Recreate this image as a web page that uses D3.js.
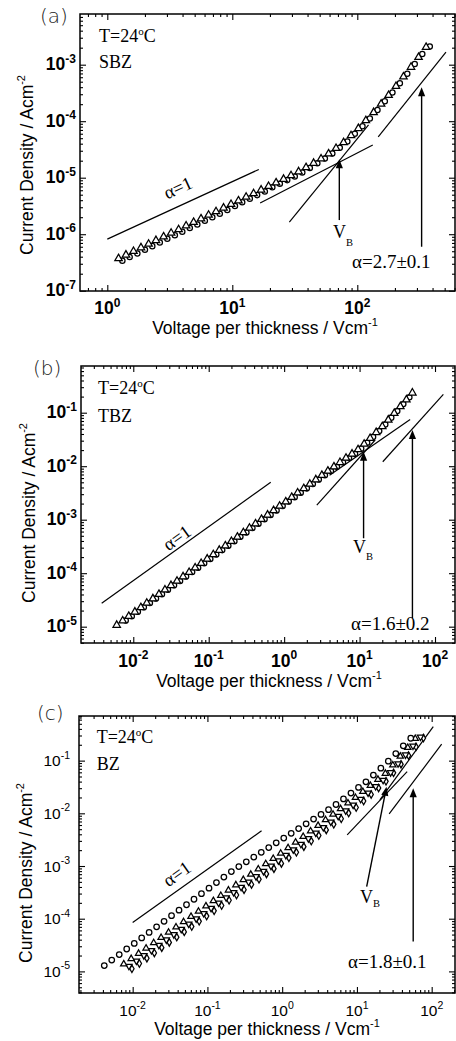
<!DOCTYPE html>
<html><head><meta charset="utf-8">
<script src="https://cdn.jsdelivr.net/npm/d3@7"></script>
<style>html,body{margin:0;padding:0;background:#fff;}svg{display:block;}</style>
</head><body>
<svg id="chart" width="456" height="1041"></svg>
<script>
// ---------------- DATA ----------------
// Panel (a) SBZ
const sbzTriX = [1.23,1.41,1.62,1.86,2.14,2.45,2.82,3.24,3.72,4.27,4.90,5.62,6.46,7.41,8.51,9.77,11.2,12.9,14.8,17.0,19.5,22.4,25.7,29.5,33.9,38.9,44.7,51.3,58.9,67.6,77.6,89.1,102,117,135,155,178,204,234,269,309,355];
const sbzTriJ = [3.72e-7,4.31e-7,4.99e-7,5.79e-7,6.71e-7,7.78e-7,9.03e-7,1.05e-6,1.21e-6,1.41e-6,1.63e-6,1.88e-6,2.18e-6,2.52e-6,2.92e-6,3.38e-6,3.92e-6,4.54e-6,5.25e-6,6.08e-6,7.05e-6,8.15e-6,9.44e-6,1.09e-5,1.28e-5,1.52e-5,1.81e-5,2.16e-5,2.66e-5,3.32e-5,4.20e-5,5.56e-5,7.46e-5,1.03e-4,1.43e-4,2.02e-4,2.88e-4,4.15e-4,6.11e-4,9.06e-4,1.35e-3,2.04e-3];
const sbzCirX = [1.32,1.51,1.74,2.00,2.29,2.63,3.02,3.47,3.98,4.57,5.25,6.03,6.92,7.94,9.12,10.5,12.0,13.8,15.8,18.2,20.9,24.0,27.5,31.6,36.3,41.7,47.9,55.0,63.1,72.4,83.2,95.5,110,126,145,166,191,219,251,288,331,380];
const sbzCirJ = [3.40e-7,3.94e-7,4.57e-7,5.31e-7,6.15e-7,7.13e-7,8.28e-7,9.61e-7,1.11e-6,1.29e-6,1.49e-6,1.73e-6,2.00e-6,2.31e-6,2.68e-6,3.17e-6,3.67e-6,4.26e-6,4.92e-6,5.70e-6,6.76e-6,7.82e-6,9.06e-6,1.05e-5,1.24e-5,1.48e-5,1.80e-5,2.19e-5,2.69e-5,3.40e-5,4.39e-5,6.00e-5,8.17e-5,1.12e-4,1.58e-4,2.25e-4,3.22e-4,4.70e-4,6.92e-4,1.03e-3,1.55e-3,2.09e-3];
const sbzLines = [[[1,8.2e-7],[16.3,1.4e-5]],[[16.7,3.56e-6],[133,3.8e-5]],[[28.6,1.64e-6],[123,8.6e-5]],[[147,5.3e-5],[512,1.66e-3]]];
const sbzArrows = [[[71.8,1.78e-6],[71.8,2.12e-5]],[[327,6.0e-7],[327,3.98e-4]]];

// Panel (b) TBZ
const tbzTriX = [6.03e-3,7.24e-3,8.71e-3,1.05e-2,1.26e-2,1.51e-2,1.82e-2,2.19e-2,2.63e-2,3.16e-2,3.80e-2,4.57e-2,5.50e-2,6.61e-2,7.94e-2,9.55e-2,0.115,0.138,0.166,0.200,0.240,0.288,0.347,0.417,0.501,0.603,0.724,0.871,1.05,1.26,1.51,1.82,2.19,2.63,3.16,3.80,4.57,5.50,6.61,7.94,9.55,11.5,13.8,16.6,20.0,24.0,28.8,34.7,41.7,50.1];
const tbzTriJ = [1.07e-5,1.29e-5,1.57e-5,1.89e-5,2.29e-5,2.77e-5,3.34e-5,4.05e-5,4.89e-5,5.92e-5,7.14e-5,8.63e-5,1.04e-4,1.26e-4,1.53e-4,1.85e-4,2.23e-4,2.70e-4,3.26e-4,3.94e-4,4.76e-4,5.75e-4,6.97e-4,8.41e-4,1.02e-3,1.23e-3,1.49e-3,1.80e-3,2.17e-3,2.63e-3,3.18e-3,3.84e-3,4.65e-3,5.61e-3,6.78e-3,8.15e-3,9.79e-3,1.18e-2,1.42e-2,1.70e-2,2.05e-2,2.59e-2,3.33e-2,4.29e-2,5.52e-2,7.33e-2,9.79e-2,0.131,0.175,0.235];
const tbzCirX = [7.94e-3,9.55e-3,1.15e-2,1.38e-2,1.66e-2,2.00e-2,2.40e-2,2.88e-2,3.47e-2,4.17e-2,5.01e-2,6.03e-2,7.24e-2,8.71e-2,0.105,0.126,0.151,0.182,0.219,0.263,0.316,0.380,0.457,0.550,0.661,0.794,0.955,1.15,1.38,1.66,2.00,2.40,2.88,3.47,4.17,5.01,6.03,7.24,8.71,10.5,12.6,15.1,18.2,21.9,26.3,31.6,38.0,45.7];
const tbzCirJ = [1.30e-5,1.57e-5,1.90e-5,2.30e-5,2.77e-5,3.36e-5,4.06e-5,4.90e-5,5.93e-5,7.16e-5,8.67e-5,1.05e-4,1.26e-4,1.53e-4,1.85e-4,2.24e-4,2.70e-4,3.27e-4,3.95e-4,4.78e-4,5.78e-4,6.98e-4,8.43e-4,1.02e-3,1.23e-3,1.49e-3,1.80e-3,2.18e-3,2.64e-3,3.18e-3,3.85e-3,4.66e-3,5.62e-3,6.78e-3,8.15e-3,9.79e-3,1.18e-2,1.42e-2,1.70e-2,2.13e-2,2.74e-2,3.53e-2,4.54e-2,6.05e-2,8.09e-2,0.108,0.145,0.194];
const tbzLines = [[[3.81e-3,2.74e-5],[0.664,5.0e-3]],[[2.71,1.88e-3],[16.1,3.09e-2]],[[4.0,6.8e-3],[46.8,7.5e-2]],[[20.3,1.21e-2],[129,0.221]]];
const tbzArrows = [[[11.3,4.5e-4],[11.3,1.87e-2]],[[50.2,1.44e-5],[50.2,4.75e-2]]];

// Panel (c) BZ
const bzCirX = [4.17e-3,5.25e-3,6.61e-3,8.32e-3,1.05e-2,1.32e-2,1.66e-2,2.09e-2,2.63e-2,3.31e-2,4.17e-2,5.25e-2,6.61e-2,8.32e-2,0.105,0.132,0.166,0.209,0.263,0.331,0.417,0.525,0.661,0.832,1.05,1.32,1.66,2.09,2.63,3.31,4.17,5.25,6.61,8.32,10.5,13.2,16.6,20.9,26.3,33.1,41.7,52.5];
const bzCirJ = [1.29e-5,1.64e-5,2.09e-5,2.66e-5,3.39e-5,4.32e-5,5.50e-5,7.00e-5,8.91e-5,1.14e-4,1.45e-4,1.84e-4,2.34e-4,2.99e-4,3.80e-4,4.84e-4,6.17e-4,7.85e-4,9.77e-4,1.20e-3,1.48e-3,1.82e-3,2.24e-3,2.75e-3,3.39e-3,4.17e-3,5.13e-3,6.31e-3,7.76e-3,9.55e-3,1.17e-2,1.47e-2,1.88e-2,2.42e-2,3.10e-2,3.97e-2,5.33e-2,7.19e-2,9.77e-2,0.136,0.191,0.266];
const bzTriX = [7.59e-3,9.55e-3,1.20e-2,1.51e-2,1.91e-2,2.40e-2,3.02e-2,3.80e-2,4.79e-2,6.03e-2,7.59e-2,9.55e-2,0.120,0.151,0.191,0.240,0.302,0.380,0.479,0.603,0.759,0.955,1.20,1.51,1.91,2.40,3.02,3.80,4.79,6.03,7.59,9.55,12.0,15.1,19.1,24.0,30.2,38.0,47.9,60.3];
const bzTriJ = [1.38e-5,1.74e-5,2.19e-5,2.75e-5,3.47e-5,4.37e-5,5.50e-5,6.92e-5,8.71e-5,1.10e-4,1.38e-4,1.74e-4,2.19e-4,2.75e-4,3.47e-4,4.37e-4,5.50e-4,6.92e-4,8.71e-4,1.10e-3,1.38e-3,1.74e-3,2.21e-3,2.82e-3,3.61e-3,4.60e-3,5.87e-3,7.50e-3,9.57e-3,1.22e-2,1.56e-2,1.99e-2,2.58e-2,3.37e-2,4.39e-2,5.71e-2,8.20e-2,0.121,0.177,0.261];
const bzDnX = [8.91e-3,1.12e-2,1.41e-2,1.78e-2,2.24e-2,2.82e-2,3.55e-2,4.47e-2,5.62e-2,7.08e-2,8.91e-2,0.112,0.141,0.178,0.224,0.282,0.355,0.447,0.562,0.708,0.891,1.12,1.41,1.78,2.24,2.82,3.55,4.47,5.62,7.08,8.91,11.2,14.1,17.8,22.4,28.2,35.5,44.7,56.2,70.8];
const bzDnJ = [1.26e-5,1.58e-5,2.00e-5,2.51e-5,3.16e-5,3.98e-5,5.01e-5,6.31e-5,7.94e-5,1.00e-4,1.26e-4,1.58e-4,2.00e-4,2.51e-4,3.16e-4,3.98e-4,5.01e-4,6.31e-4,7.94e-4,1.00e-3,1.26e-3,1.60e-3,2.04e-3,2.60e-3,3.32e-3,4.24e-3,5.41e-3,6.90e-3,8.81e-3,1.12e-2,1.44e-2,1.86e-2,2.45e-2,3.24e-2,4.27e-2,5.94e-2,8.77e-2,0.129,0.191,0.282];
const bzDiaX = [9.77e-3,1.23e-2,1.55e-2,1.95e-2,2.45e-2,3.09e-2,3.89e-2,4.90e-2,6.17e-2,7.76e-2,9.77e-2,0.123,0.155,0.195,0.245,0.309,0.389,0.490,0.617,0.776,0.977,1.23,1.55,1.95,2.45,3.09,3.89,4.90,6.17,7.76,9.77,12.3,15.5,19.5,24.5,30.9,38.9,49.0,61.7,77.6];
const bzDiaJ = [1.12e-5,1.41e-5,1.78e-5,2.24e-5,2.82e-5,3.55e-5,4.47e-5,5.62e-5,7.08e-5,8.91e-5,1.12e-4,1.41e-4,1.78e-4,2.24e-4,2.82e-4,3.55e-4,4.47e-4,5.62e-4,7.08e-4,8.91e-4,1.12e-3,1.43e-3,1.82e-3,2.33e-3,2.97e-3,3.79e-3,4.84e-3,6.18e-3,7.89e-3,1.01e-2,1.29e-2,1.71e-2,2.28e-2,3.03e-2,4.05e-2,5.86e-2,8.57e-2,0.125,0.183,0.268];
const bzLines = [[[1.0e-2,8.5e-5],[0.53,4.65e-3]],[[7.41,3.90e-3],[47.0,6.18e-2]],[[20.3,1.80e-2],[105,0.442]],[[27.0,9.77e-3],[136,0.205]]];
const bzArrows = [[[13.5,4.08e-4],[24.9,3.2e-2]],[[56.6,3.7e-5],[56.6,3.0e-2]]];

// ---------------- DRAWING ----------------
const SANS = "'Liberation Sans', Arial, Helvetica, sans-serif";
const SERIF = "'Liberation Serif', 'Times New Roman', Times, serif";
const svg = d3.select("#chart");

function decades(s){
  const [a,b] = s.domain(); const maj=[], min=[];
  for (let e=Math.floor(Math.log10(a)); e<=Math.ceil(Math.log10(b)); e++){
    const m = Math.pow(10,e);
    if (m>=a*0.9999 && m<=b*1.0001) maj.push(m);
    for (let k=2;k<=9;k++){ const v=k*m; if (v>=a && v<=b) min.push(v); }
  }
  return {maj, min};
}

function drawPanel(p){
  const g = svg.append("g");
  const x = d3.scaleLog().domain(p.xDomain).range([p.left,p.right]);
  const y = d3.scaleLog().domain(p.yDomain).range([p.bottom,p.top]);
  const xt = decades(x), yt = decades(y);
  const axes = [
    [d3.axisBottom, x, xt, `translate(0,${p.bottom})`],
    [d3.axisTop, x, xt, `translate(0,${p.top})`],
    [d3.axisLeft, y, yt, `translate(${p.left},0)`],
    [d3.axisRight, y, yt, `translate(${p.right},0)`]
  ];
  axes.forEach(([fn, sc, t, tr]) => {
    [[t.maj,6],[t.min,3]].forEach(([vals,len]) => {
      const a = g.append("g").attr("transform", tr)
        .call(fn(sc).tickValues(vals).tickSize(-len).tickFormat(""));
      a.select(".domain").remove();
      a.selectAll("line").attr("stroke","#000").attr("stroke-width",1.1);
    });
  });
  g.append("rect").attr("x",p.left).attr("y",p.top)
    .attr("width",p.right-p.left).attr("height",p.bottom-p.top)
    .attr("fill","none").attr("stroke","#000").attr("stroke-width",1.5);

  // tick labels
  const fw = p.bold ? "bold" : "normal";
  xt.maj.forEach(v => {
    const t = g.append("text").attr("x", x(v)).attr("y", p.bottom+p.xLabDy)
      .attr("text-anchor","middle").attr("font-family",SANS).attr("font-weight",fw)
      .attr("font-size",p.tickFs).attr("fill","#000");
    t.append("tspan").text("10");
    t.append("tspan").attr("dy",-7.5).attr("font-size",p.supFs).text(String(Math.round(Math.log10(v))));
  });
  yt.maj.forEach(v => {
    const t = g.append("text").attr("x", p.left-p.yLabGap).attr("y", y(v)+5.5)
      .attr("text-anchor","end").attr("font-family",SANS).attr("font-weight",fw)
      .attr("font-size",p.tickFs).attr("fill","#000");
    t.append("tspan").text("10");
    t.append("tspan").attr("dy",-7.5).attr("font-size",p.supFs).text(String(Math.round(Math.log10(v))));
  });

  // axis titles
  const xtit = g.append("text").attr("x",p.xTitle[0]).attr("y",p.xTitle[1])
    .attr("text-anchor","middle").attr("font-family",SANS).attr("font-size",17.5).attr("fill","#000");
  xtit.append("tspan").text("Voltage per thickness / Vcm");
  xtit.append("tspan").attr("dy",-8).attr("font-size",11).text("-1");
  const ytit = g.append("text").attr("transform",`translate(${p.yTitle[0]},${p.yTitle[1]}) rotate(-90)`)
    .attr("text-anchor","middle").attr("font-family",SANS).attr("font-size",17.5).attr("fill","#000");
  ytit.append("tspan").text("Current Density / Acm");
  ytit.append("tspan").attr("dy",-8).attr("font-size",11).text("-2");

  // panel letter
  g.append("text").attr("x",p.letter[0]).attr("y",p.letter[1])
    .attr("font-family","'DejaVu Sans', sans-serif").attr("font-weight",300)
    .attr("font-size",20).attr("fill","#222").text(p.letter[2]);

  // annotation lines
  p.lines.forEach(l => {
    g.append("line").attr("x1",x(l[0][0])).attr("y1",y(l[0][1]))
      .attr("x2",x(l[1][0])).attr("y2",y(l[1][1]))
      .attr("stroke","#000").attr("stroke-width",1.2);
  });
  // arrows (tail -> tip)
  p.arrows.forEach(a => {
    const x1=x(a[0][0]), y1=y(a[0][1]), x2=x(a[1][0]), y2=y(a[1][1]);
    const dx=x2-x1, dy=y2-y1, L=Math.hypot(dx,dy), ux=dx/L, uy=dy/L;
    const hl=9, hw=3.6;
    g.append("line").attr("x1",x1).attr("y1",y1).attr("x2",x2-ux*hl*0.8).attr("y2",y2-uy*hl*0.8)
      .attr("stroke","#000").attr("stroke-width",1.4);
    const bx=x2-ux*hl, by=y2-uy*hl;
    g.append("path").attr("d",`M${x2},${y2}L${bx-uy*hw},${by+ux*hw}L${bx+uy*hw},${by-ux*hw}Z`).attr("fill","#000");
  });

  // data series
  p.series.forEach(s => {
    const sym = d3.symbol().type(s.type).size(s.size);
    g.append("g").selectAll("path").data(d3.zip(s.x, s.y)).join("path")
      .attr("transform", d => `translate(${x(d[0])},${y(d[1])})${s.rot ? " rotate(180)" : ""}`)
      .attr("d", sym).attr("fill","#fff").attr("stroke","#000").attr("stroke-width",1.25);
  });

  // serif annotations
  const serif = (xx,yy,fs) => g.append("text").attr("x",xx).attr("y",yy)
    .attr("font-family",SERIF).attr("font-size",fs).attr("fill","#000");
  const tt = serif(p.temp[0],p.temp[1],18);
  tt.append("tspan").text("T=24");
  tt.append("tspan").attr("dy",-7).attr("font-size",11).text("o");
  tt.append("tspan").attr("dy",7).text("C");
  serif(p.name[0],p.name[1],18).text(p.name[2]);
  g.append("text").attr("transform",`translate(${p.a1[0]},${p.a1[1]}) rotate(${p.a1[2]})`)
    .attr("text-anchor","middle").attr("y",6)
    .attr("font-family",SERIF).attr("font-size",18.5).attr("fill","#000").text("\u03b1=1");
  const vb = serif(p.vb[0],p.vb[1],18);
  vb.append("tspan").text("V");
  vb.append("tspan").attr("dy",p.vb[2]).attr("font-size",10.5).text("B");
  serif(p.al[0],p.al[1],19).text(p.al[2]);
}

drawPanel({
  left:80, right:455, top:14, bottom:291,
  xDomain:[Math.pow(10,-0.2184), Math.pow(10,2.7816)], yDomain:[Math.pow(10,-7.005), Math.pow(10,-2.103)],
  bold:true, tickFs:17.5, supFs:12, xLabDy:23, yLabGap:4,
  xTitle:[265,334], yTitle:[33,165], letter:[40,23,"(a)"],
  lines:sbzLines, arrows:sbzArrows,
  series:[{x:sbzCirX,y:sbzCirJ,type:d3.symbolCircle,size:22},{x:sbzTriX,y:sbzTriJ,type:d3.symbolTriangle,size:24}],
  temp:[99,42], name:[99,68,"SBZ"], a1:[178,188,-24.7], vb:[333,238,8], al:[352,268,"\u03b1=2.7\u00b10.1"]
});
drawPanel({
  left:81, right:455, top:366, bottom:643,
  xDomain:[Math.pow(10,-2.693), Math.pow(10,2.265)], yDomain:[Math.pow(10,-5.305), Math.pow(10,-0.127)],
  bold:true, tickFs:17.5, supFs:12, xLabDy:23.5, yLabGap:4,
  xTitle:[269,686.5], yTitle:[35,513], letter:[33,375,"(b)"],
  lines:tbzLines, arrows:tbzArrows,
  series:[{x:tbzCirX,y:tbzCirJ,type:d3.symbolCircle,size:22},{x:tbzTriX,y:tbzTriJ,type:d3.symbolTriangle,size:24}],
  temp:[98,393.5], name:[98,421.7,"TBZ"], a1:[177,538,-35.6], vb:[353,553,7], al:[351,630,"\u03b1=1.6\u00b10.2"]
});
drawPanel({
  left:79, right:455, top:716, bottom:993,
  xDomain:[Math.pow(10,-2.718), Math.pow(10,2.312)], yDomain:[Math.pow(10,-5.41), Math.pow(10,-0.153)],
  bold:false, tickFs:15.5, supFs:10.5, xLabDy:23, yLabGap:9,
  xTitle:[267,1034.5], yTitle:[31.5,873], letter:[37,720,"(c)"],
  lines:bzLines, arrows:bzArrows,
  series:[{x:bzDiaX,y:bzDiaJ,type:d3.symbolDiamond,size:16},{x:bzDnX,y:bzDnJ,type:d3.symbolTriangle,size:17,rot:true},{x:bzTriX,y:bzTriJ,type:d3.symbolTriangle,size:17},{x:bzCirX,y:bzCirJ,type:d3.symbolCircle,size:24}],
  temp:[96.7,743.3], name:[96.7,770,"BZ"], a1:[177,874,-35.4], vb:[360,903.3,4], al:[348,968.3,"\u03b1=1.8\u00b10.1"]
});
</script>
</body></html>
